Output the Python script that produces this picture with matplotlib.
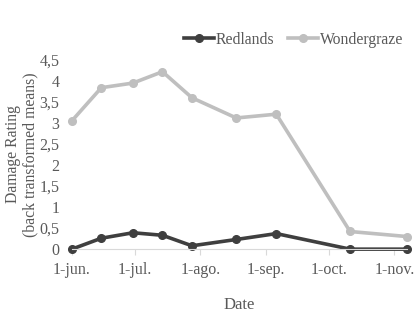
import datetime as dt
import matplotlib
matplotlib.use('Agg')
import matplotlib.pyplot as plt
import matplotlib.dates as mdates

dates = ['2015-06-01', '2015-06-15', '2015-06-30', '2015-07-14', '2015-07-28',
         '2015-08-18', '2015-09-06', '2015-10-11', '2015-11-07']
redlands = [0.0, 0.26, 0.39, 0.33, 0.08, 0.23, 0.37, 0.0, 0.0]
wondergraze = [3.05, 3.84, 3.95, 4.22, 3.6, 3.12, 3.21, 0.42, 0.3]
tick_dates = ['2015-06-01', '2015-07-01', '2015-08-01', '2015-09-01', '2015-10-01', '2015-11-01']
tick_labels = ['1-jun.', '1-jul.', '1-ago.', '1-sep.', '1-oct.', '1-nov.']
y_ticks = [0, 0.5, 1, 1.5, 2, 2.5, 3, 3.5, 4, 4.5]
y_labels = ['0', '0,5', '1', '1,5', '2', '2,5', '3', '3,5', '4', '4,5']

plt.rcParams['font.family'] = ['Liberation Serif', 'DejaVu Serif']
txt = '#595959'

x = [dt.datetime.strptime(d, '%Y-%m-%d') for d in dates]
xt = [dt.datetime.strptime(d, '%Y-%m-%d') for d in tick_dates]

fig = plt.figure(figsize=(4.2, 3.24), dpi=100)
ax = fig.add_axes([0.171, 0.231, 0.798, 0.584])

ax.plot(x, redlands, color='#3f3f3f', lw=2.6, marker='o', ms=5.5, label='Redlands', clip_on=False)
ax.plot(x, wondergraze, color='#bfbfbf', lw=2.6, marker='o', ms=5.5, label='Wondergraze', clip_on=False)

ax.set_xlim(mdates.date2num(dt.datetime(2015, 6, 1)), mdates.date2num(dt.datetime(2015, 11, 7)))
ax.set_ylim(0, 4.5)
ax.set_xticks(xt)
ax.set_xticklabels(tick_labels)
ax.set_yticks(y_ticks)
ax.set_yticklabels(y_labels)

for s in ['top', 'right', 'left']:
    ax.spines[s].set_visible(False)
ax.spines['bottom'].set_color('#d9d9d9')
ax.tick_params(axis='y', length=0, labelsize=11.5, colors=txt, pad=9)
ax.tick_params(axis='x', length=4, color='#d9d9d9', labelsize=11.5, labelcolor=txt, pad=5)

ax.set_xlabel('Date', fontsize=12, color=txt, labelpad=14)
ax.set_ylabel('Damage Rating\n(back transformed means)', fontsize=11.3, color=txt, labelpad=1, linespacing=1.05)

fig.legend(loc='center right', bbox_to_anchor=(0.975, 0.877), ncol=2, frameon=False,
           fontsize=11.3, labelcolor=txt, handlelength=1.9, handletextpad=0.1, columnspacing=0.9,
           borderaxespad=0)

fig.savefig('out.png', dpi=100)
